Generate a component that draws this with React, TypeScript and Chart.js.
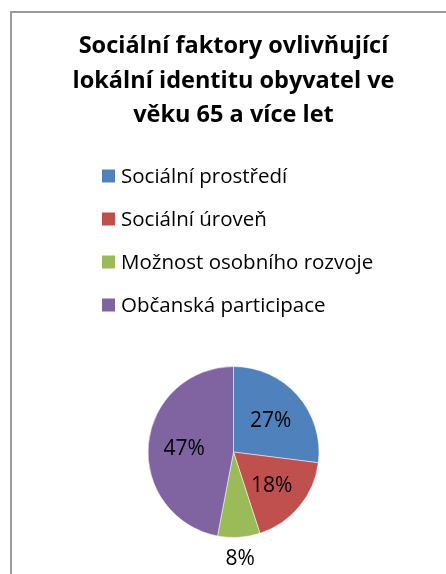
import { useEffect, useRef } from "react";
import { Chart, registerables } from "chart.js";

Chart.register(...registerables);

const categories = [
  "Sociální prostředí",
  "Sociální úroveň",
  "Možnost osobního rozvoje",
  "Občanská participace",
];
const values = [27, 18, 8, 47];
const colors = ["#4F81BD", "#C0504D", "#9BBB59", "#8064A2"];
const titleLines = [
  "Sociální faktory ovlivňující",
  "lokální identitu obyvatel ve",
  "věku 65 a více let",
];

const FONT = "'Open Sans', 'Noto Sans', sans-serif";

const legendPlugin = {
  id: "columnLegend",
  afterDraw(chart: any) {
    const ctx = chart.ctx;
    const labels: string[] = chart.data.labels;
    const bg: string[] = chart.data.datasets[0].backgroundColor;
    ctx.save();
    ctx.font = `20.5px ${FONT}`;
    let maxW = 0;
    labels.forEach((l) => (maxW = Math.max(maxW, ctx.measureText(l).width)));
    const box = 13;
    const gap = 6;
    const blockW = box + gap + maxW;
    const x0 = Math.round(238 - blockW / 2);
    labels.forEach((l, i) => {
      const yc = 176 + i * 43;
      ctx.fillStyle = bg[i];
      ctx.fillRect(x0, yc - box / 2, box, box);
      ctx.fillStyle = "#000";
      ctx.textAlign = "left";
      ctx.textBaseline = "middle";
      ctx.fillText(l, x0 + box + gap, yc + 1);
    });
    ctx.restore();
  },
};

const pieLabelPlugin = {
  id: "pieLabels",
  afterDatasetsDraw(chart: any) {
    const ctx = chart.ctx;
    const meta = chart.getDatasetMeta(0);
    const data: number[] = chart.data.datasets[0].data;
    const total = data.reduce((a, b) => a + b, 0);
    ctx.save();
    ctx.font = `21px ${FONT}`;
    ctx.fillStyle = "#000";
    ctx.textAlign = "center";
    ctx.textBaseline = "middle";
    meta.data.forEach((arc: any, i: number) => {
      const { x, y, startAngle, endAngle, outerRadius } = arc.getProps(
        ["x", "y", "startAngle", "endAngle", "outerRadius"],
        true
      );
      const mid = (startAngle + endAngle) / 2;
      const pct = Math.round((data[i] / total) * 100);
      const r = pct < 10 ? outerRadius + 20 : outerRadius * 0.58;
      ctx.fillText(pct + "%", x + Math.cos(mid) * r, y + Math.sin(mid) * r + 2);
    });
    ctx.restore();
  },
};

export default function App() {
  const ref = useRef<HTMLCanvasElement>(null);
  useEffect(() => {
    if (!ref.current) return;
    const chart = new Chart(ref.current, {
      type: "pie",
      data: {
        labels: categories,
        datasets: [
          {
            data: values,
            backgroundColor: colors,
            borderColor: "rgba(255,255,255,0.5)",
            borderWidth: 1,
          },
        ],
      },
      options: {
        responsive: false,
        animation: false,
        layout: { padding: { top: 10, left: 21, right: 0, bottom: 36 } },
        plugins: {
          legend: { display: false },
          tooltip: { enabled: false },
          title: {
            display: true,
            text: titleLines,
            color: "#000",
            font: { family: FONT, size: 23.5, weight: "bold", lineHeight: 1.47 },
            padding: { top: 19, bottom: 233.4 },
          },
        },
      },
      plugins: [legendPlugin, pieLabelPlugin],
    });
    return () => chart.destroy();
  }, []);
  return (
    <div
      style={{
        position: "fixed",
        left: 0,
        top: 0,
        width: 446,
        height: 574,
        overflow: "hidden",
        background: "#fff",
      }}
    >
      <div
        style={{
          position: "absolute",
          left: 10,
          top: 11,
          width: 800,
          height: 900,
          border: "2px solid #9a9a9a",
          boxSizing: "border-box",
        }}
      />
      <canvas
        ref={ref}
        width={446}
        height={574}
        style={{ position: "absolute", left: 0, top: 0, width: 446, height: 574 }}
      />
    </div>
  );
}
